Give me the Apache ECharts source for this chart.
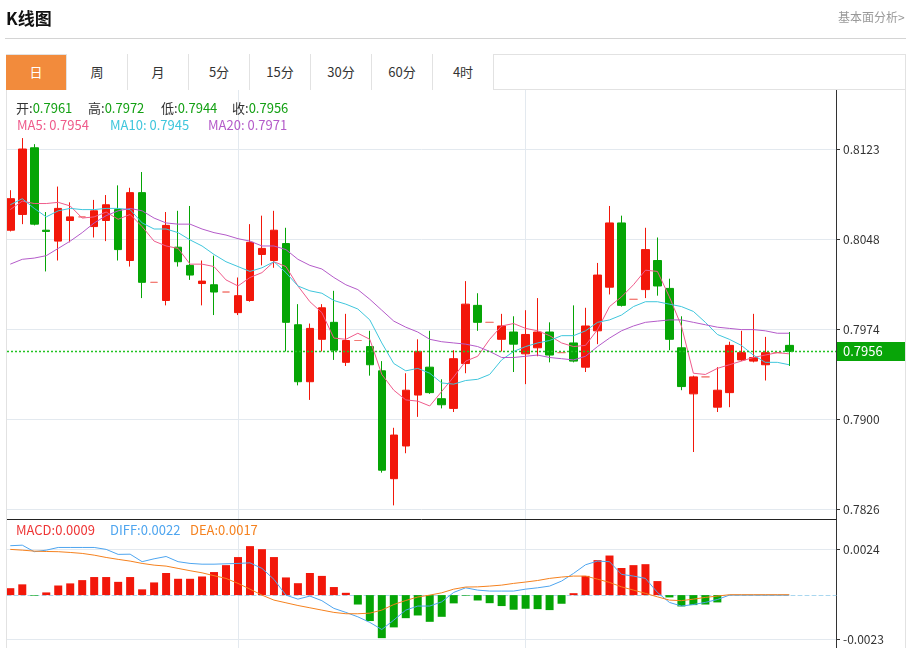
<!DOCTYPE html>
<html>
<head>
<meta charset="utf-8">
<script src="https://cdn.jsdelivr.net/npm/echarts@6/dist/echarts.min.js"></script>
<style>
html,body{margin:0;padding:0;background:#fff;width:911px;height:648px;overflow:hidden;font-family:"Noto Sans CJK SC","Noto Sans",sans-serif;}
#chart{position:absolute;left:0;top:0;width:911px;height:648px;}
.ov{position:absolute;pointer-events:none;white-space:nowrap;}
.tab{position:absolute;top:54px;width:61px;height:36px;box-sizing:border-box;border-right:1px solid #e2e2e2;text-align:center;line-height:36px;font-size:13px;color:#333;background:#fff;}
.tab.on{background:#f28b3c;color:#fff;}
.lg{position:absolute;font-size:13px;line-height:16px;white-space:nowrap;}
</style>
</head>
<body>
<div id="chart"></div>

<div class="ov" style="left:6px;top:7px;font-size:17px;line-height:22px;font-weight:bold;color:#111;">K线图</div>
<div class="ov" style="left:838px;top:8px;font-size:12px;line-height:17px;color:#999;">基本面分析&gt;</div>
<div class="ov" style="left:5px;top:38px;width:901px;height:1px;background:#d4d4d4;"></div>
<div class="ov" style="left:6px;top:54px;width:900px;height:36px;box-sizing:border-box;border:1px solid #e2e2e2;"></div>
<div id="tabs"></div>
<div class="ov" style="left:6px;top:90px;width:1px;height:558px;background:#e2e2e2;"></div>
<div class="ov" style="left:905px;top:54px;width:1px;height:594px;background:#e2e2e2;"></div>
<div id="legends"></div>

<script>
// ---------- data ----------
const tabNames = ['日', '周', '月', '5分', '15分', '30分', '60分', '4时'];

const openP  = [0.8056,0.8069,0.8124,0.8056,0.8047,0.8064,0.8067,0.8059,0.8064,0.8073,
                0.8031,0.8087,0.8013,0.7998,0.8042,0.8027,0.8012,0.8011,0.8005,0.7988,
                0.7998,0.8036,0.8031,0.8045,0.7978,0.7931,0.7966,0.7980,0.7947,0.7965,
                0.7960,0.7940,0.7851,0.7878,0.7920,0.7943,0.7917,0.7909,0.7946,0.7994,
                0.7980,0.7966,0.7972,0.7954,0.7959,0.7972,0.7955,0.7963,0.7943,0.7973,
                0.8009,0.8062,0.7999,0.8007,0.8031,0.8008,0.7959,0.7921,0.7935,0.7910,
                0.7922,0.7949,0.7948,0.7945,0.7955,0.7961];
const closeP = [0.8082,0.8123,0.8061,0.8055,0.8074,0.8067,0.8067,0.8072,0.8077,0.8040,
                0.8087,0.8013,0.8013,0.8060,0.8030,0.8019,0.8014,0.8005,0.8005,0.8002,
                0.8046,0.8041,0.8056,0.7980,0.7931,0.7975,0.7992,0.7957,0.7965,0.7965,
                0.7945,0.7858,0.7887,0.7924,0.7956,0.7922,0.7912,0.7950,0.7995,0.7980,
                0.7980,0.7977,0.7962,0.7970,0.7972,0.7953,0.7955,0.7948,0.7977,0.8019,
                0.8062,0.7994,0.7999,0.8040,0.8010,0.7966,0.7927,0.7935,0.7935,0.7924,
                0.7961,0.7955,0.7951,0.7955,0.7955,0.7956];
const lowP   = [0.8055,0.8061,0.8060,0.8022,0.8031,0.8046,0.8067,0.8050,0.8047,0.8031,
                0.8026,0.8000,0.8013,0.7994,0.8026,0.8015,0.7994,0.7986,0.8005,0.7986,
                0.7997,0.8027,0.8025,0.7956,0.7928,0.7916,0.7956,0.7949,0.7944,0.7965,
                0.7936,0.7856,0.7829,0.7872,0.7902,0.7921,0.7909,0.7906,0.7938,0.7973,
                0.7980,0.7956,0.7939,0.7929,0.7952,0.7947,0.7955,0.7947,0.7939,0.7962,
                0.8003,0.7993,0.7999,0.8000,0.8002,0.7957,0.7924,0.7873,0.7935,0.7906,
                0.7910,0.7948,0.7947,0.7932,0.7955,0.7944];
const highP  = [0.8089,0.8132,0.8127,0.8071,0.8092,0.8079,0.8067,0.8081,0.8085,0.8093,
                0.8091,0.8104,0.8013,0.8071,0.8072,0.8076,0.8031,0.8035,0.8005,0.8017,
                0.8061,0.8068,0.8072,0.8058,0.7995,0.7979,0.7995,0.8006,0.7987,0.7965,
                0.7973,0.7948,0.7893,0.7938,0.7966,0.7973,0.7933,0.7957,0.8014,0.8004,
                0.7980,0.7987,0.7985,0.7990,0.8000,0.7980,0.7955,0.7994,0.7992,0.8029,
                0.8076,0.8068,0.7999,0.8058,0.8050,0.8016,0.7985,0.7936,0.7935,0.7943,
                0.7964,0.7973,0.7987,0.7968,0.7955,0.7972];

const ma5  = [0.8073,0.8080,0.8078,0.8078,0.8079,0.8076,0.8066,0.8067,0.8071,0.8065,
              0.8069,0.8059,0.8047,0.8043,0.8041,0.8028,0.8028,0.8026,0.8015,0.8010,
              0.8017,0.8021,0.8030,0.8026,0.8010,0.7997,0.7988,0.7967,0.7966,0.7971,
              0.7966,0.7937,0.7924,0.7916,0.7915,0.7911,0.7923,0.7935,0.7948,0.7952,
              0.7966,0.7977,0.7979,0.7975,0.7973,0.7969,0.7963,0.7960,0.7961,0.7974,
              0.7993,0.8001,0.8011,0.8023,0.8022,0.8001,0.7977,0.7938,0.7937,0.7942,
              0.7945,0.7948,0.7951,0.7953,0.7955,0.7954];
const ma10 = [0.8077,0.8082,0.8074,0.8067,0.8072,0.8074,0.8073,0.8073,0.8074,0.8074,
              0.8073,0.8062,0.8057,0.8057,0.8054,0.8048,0.8043,0.8036,0.8030,0.8026,
              0.8022,0.8025,0.8030,0.8021,0.8010,0.8006,0.8004,0.7998,0.7995,0.7991,
              0.7982,0.7963,0.7946,0.7940,0.7942,0.7938,0.7930,0.7929,0.7932,0.7933,
              0.7937,0.7949,0.7956,0.7960,0.7963,0.7965,0.7969,0.7969,0.7973,0.7980,
              0.7982,0.7986,0.7993,0.7997,0.7997,0.7995,0.7993,0.7989,0.7980,0.7970,
              0.7966,0.7961,0.7953,0.7947,0.7947,0.7945];
const ma20 = [0.8028,0.8032,0.8033,0.8035,0.8041,0.8047,0.8054,0.8062,0.8068,0.8072,
              0.8074,0.8072,0.8066,0.8062,0.8061,0.8061,0.8057,0.8054,0.8052,0.8049,
              0.8047,0.8043,0.8043,0.8040,0.8032,0.8027,0.8024,0.8017,0.8011,0.8007,
              0.7999,0.7990,0.7981,0.7976,0.7972,0.7966,0.7964,0.7963,0.7962,0.7960,
              0.7956,0.7951,0.7951,0.7952,0.7953,0.7951,0.7950,0.7949,0.7952,0.7960,
              0.7967,0.7973,0.7977,0.7980,0.7981,0.7982,0.7982,0.7980,0.7978,0.7976,
              0.7975,0.7974,0.7974,0.7973,0.7971,0.7971];

const macdBar = [0.00036,0.00056,-0.00003,0.00014,0.00050,0.00061,0.00078,0.00094,0.00094,0.00069,
                 0.00094,0.00030,0.00066,0.00115,0.00085,0.00085,0.00097,0.00120,0.00156,0.00198,
                 0.00255,0.00239,0.00198,0.00092,0.00062,0.00115,0.00100,0.00042,0.00012,-0.00049,
                 -0.00135,-0.00224,-0.00168,-0.00120,-0.00106,-0.00139,-0.00113,-0.00043,-0.00003,-0.00028,
                 -0.00042,-0.00057,-0.00076,-0.00071,-0.00073,-0.00078,-0.00045,0.00010,0.00100,0.00182,
                 0.00206,0.00141,0.00156,0.00161,0.00073,-0.00012,-0.00059,-0.00052,-0.00049,-0.00038,
                 0,0,0,0,0,0];
const diffLine = [0.00257,0.00260,0.00226,0.00234,0.00248,0.00248,0.00248,0.00248,0.00238,0.00212,
                  0.00213,0.00174,0.00189,0.00201,0.00174,0.00165,0.00161,0.00161,0.00163,0.00165,
                  0.00168,0.00139,0.00082,0.00000,-0.00021,-0.00005,-0.00029,-0.00069,-0.00090,-0.00113,
                  -0.00142,-0.00179,-0.00130,-0.00078,-0.00057,-0.00057,-0.00035,0.00014,0.00038,0.00026,
                  0.00021,0.00021,0.00021,0.00031,0.00038,0.00047,0.00073,0.00113,0.00158,0.00177,
                  0.00174,0.00108,0.00099,0.00087,0.00014,-0.00038,-0.00057,-0.00049,-0.00038,-0.00023,
                  0,0,0,0,0,0];
const deaLine = [0.00238,0.00234,0.00229,0.00227,0.00226,0.00222,0.00217,0.00208,0.00196,0.00186,
                 0.00177,0.00165,0.00156,0.00151,0.00139,0.00127,0.00116,0.00101,0.00087,0.00061,
                 0.00031,0.00000,-0.00026,-0.00040,-0.00054,-0.00066,-0.00078,-0.00090,-0.00097,-0.00097,
                 -0.00094,-0.00078,-0.00049,-0.00028,-0.00010,0.00000,0.00012,0.00031,0.00042,0.00043,
                 0.00047,0.00052,0.00061,0.00068,0.00076,0.00087,0.00094,0.00099,0.00099,0.00083,
                 0.00066,0.00043,0.00026,0.00009,-0.00009,-0.00026,-0.00029,-0.00021,-0.00012,-0.00005,
                 0.00002,0.00002,0.00002,0.00002,0.00002,0.00002];

const priceTickLabels = ['0.7826', '0.7900', '0.7974', '0.8048', '0.8123'];
const macdTickLabels  = ['-0.0023', '0.0024'];
const macdLegend = { MACD: '0.0009', DIFF: '0.0022', DEA: '0.0017' };
const dividerIdx = [19, 43];

// ---------- styles / layout ----------
const RED = '#f2170a', GREEN = '#05a505';
const C_MA5 = '#ef5b8b', C_MA10 = '#3fc6dc', C_MA20 = '#b45bc9';
const C_DIFF = '#4ea5ef', C_DEA = '#f5811e', C_MACD = '#ee3535';
const C_LAST = '#22c322';
const gridL = 7, gridR = 836, plotW = gridR - gridL;
const kTop = 90, kBottom = 519, lblTop = 149, lblBottom = 509;
const mTop = 519, mBottom = 648, mLblTop = 549, mLblBottom = 639.3;
const xMin = -0.275, xMax = 68.9;

// tabs
const tabsEl = document.getElementById('tabs');
tabNames.forEach((t, k) => {
  const d = document.createElement('div');
  d.className = 'tab' + (k === 0 ? ' on' : '');
  d.style.left = (6 + 61 * k) + 'px';
  if (k === 0) { d.style.top = '55px'; d.style.height = '35px'; d.style.lineHeight = '34px'; }
  d.textContent = t;
  tabsEl.appendChild(d);
});

// legends
const last = openP.length - 1;
const f4 = v => v.toFixed(4);
const lgEl = document.getElementById('legends');
function addLg(x, y, html) {
  const d = document.createElement('div');
  d.className = 'lg'; d.style.left = x + 'px'; d.style.top = y + 'px';
  d.innerHTML = html; lgEl.appendChild(d);
}
const VG = '#13a013';
addLg(16, 100, '<span style="color:#333">开:</span><span style="color:' + VG + '">' + f4(openP[last]) + '</span>');
addLg(88, 100, '<span style="color:#333">高:</span><span style="color:' + VG + '">' + f4(highP[last]) + '</span>');
addLg(161, 100, '<span style="color:#333">低:</span><span style="color:' + VG + '">' + f4(lowP[last]) + '</span>');
addLg(232, 100, '<span style="color:#333">收:</span><span style="color:' + VG + '">' + f4(closeP[last]) + '</span>');
addLg(17, 117, '<span style="color:' + C_MA5 + '">MA5: ' + f4(ma5[last]) + '</span>');
addLg(110, 117, '<span style="color:' + C_MA10 + '">MA10: ' + f4(ma10[last]) + '</span>');
addLg(208, 117, '<span style="color:' + C_MA20 + '">MA20: ' + f4(ma20[last]) + '</span>');
addLg(16, 522, '<span style="color:' + C_MACD + '">MACD:' + macdLegend.MACD + '</span>');
addLg(110, 522, '<span style="color:' + C_DIFF + '">DIFF:' + macdLegend.DIFF + '</span>');
addLg(190, 522, '<span style="color:' + C_DEA + '">DEA:' + macdLegend.DEA + '</span>');

// ---------- chart ----------
const idx = openP.map((_, i) => i);
const candleData = idx.map(i => [i, openP[i], closeP[i], lowP[i], highP[i]]);
const pair = arr => arr.map((v, i) => [i, v]);

const pMin = parseFloat(priceTickLabels[0]);
const pMax = parseFloat(priceTickLabels[priceTickLabels.length - 1]);
const pInt = (pMax - pMin) / (priceTickLabels.length - 1);
const pPerPx = (pMax - pMin) / (lblBottom - lblTop);
const kMin = pMin - (kBottom - lblBottom) * pPerPx;
const kMax = pMax + (lblTop - kTop) * pPerPx;

const mLo = parseFloat(macdTickLabels[0]);
const mHi = parseFloat(macdTickLabels[1]);
const mPerPx = (mHi - mLo) / (mLblBottom - mLblTop);
const mMin = mLo - (mBottom - mLblBottom) * mPerPx;
const mMax = mHi + (mLblTop - mTop) * mPerPx;

const pxOf = i => gridL + (i - xMin) * plotW / (xMax - xMin);
const divStep = pxOf(dividerIdx[1]) - pxOf(dividerIdx[0]);
const divLeft = pxOf(dividerIdx[0]) - divStep;

const hidden = { axisLine: { show: false, onZero: false }, axisTick: { show: false }, axisLabel: { show: false }, splitLine: { show: false } };
const lblStyle = { color: '#333', fontSize: 12, margin: 7, fontFamily: 'Noto Sans CJK SC' };
const tickStyle = { show: true, length: 4, inside: false, lineStyle: { color: '#333' } };
const lastLineStyle = { color: C_LAST, type: [2, 2], width: 1.4, opacity: 1 };

const chart = echarts.init(document.getElementById('chart'));
chart.setOption({
  animation: false,
  grid: [
    { left: gridL, width: plotW, top: kTop, height: kBottom - kTop, outerBoundsMode: 'none' },
    { left: gridL, width: plotW, top: mTop, height: mBottom - mTop, outerBoundsMode: 'none' },
    { left: gridL, width: plotW, top: lblTop, height: lblBottom - lblTop, outerBoundsMode: 'none' },
    { left: gridL, width: plotW, top: mLblTop, height: mLblBottom - mLblTop, outerBoundsMode: 'none' },
    { left: divLeft, width: divStep * 2, top: kTop, height: mBottom - kTop, outerBoundsMode: 'none' }
  ],
  xAxis: [
    Object.assign({}, hidden, { gridIndex: 0, type: 'value', min: xMin, max: xMax,
      axisLine: { show: true, onZero: false, lineStyle: { color: '#222', width: 1 } } }),
    Object.assign({}, hidden, { gridIndex: 1, type: 'value', min: xMin, max: xMax,
      axisLine: { show: true, onZero: true, lineStyle: { color: '#a9d7ef', type: [4, 3], width: 1 } } }),
    Object.assign({}, hidden, { gridIndex: 2, type: 'value', min: 0, max: 1 }),
    Object.assign({}, hidden, { gridIndex: 3, type: 'value', min: 0, max: 1 }),
    Object.assign({}, hidden, { gridIndex: 4, type: 'value', min: 0, max: 2, interval: 1,
      splitLine: { show: true, lineStyle: { color: '#e3e9ef', width: 1 } } })
  ],
  yAxis: [
    Object.assign({}, hidden, { gridIndex: 0, type: 'value', position: 'right', min: kMin, max: kMax,
      axisLine: { show: true, onZero: false, lineStyle: { color: '#333' } } }),
    Object.assign({}, hidden, { gridIndex: 1, type: 'value', position: 'right', min: mMin, max: mMax,
      axisLine: { show: true, onZero: false, lineStyle: { color: '#333' } } }),
    { gridIndex: 2, type: 'value', position: 'right', min: pMin, max: pMax, interval: pInt,
      axisLine: { show: false, onZero: false }, axisTick: tickStyle,
      axisLabel: Object.assign({}, lblStyle, { formatter: v => priceTickLabels[Math.round((v - pMin) / pInt)] }),
      splitLine: { show: true, lineStyle: { color: '#e3e9ef' } } },
    { gridIndex: 3, type: 'value', position: 'right', min: mLo, max: mHi, interval: mHi - mLo,
      axisLine: { show: false, onZero: false }, axisTick: tickStyle,
      axisLabel: Object.assign({}, lblStyle, { formatter: v => macdTickLabels[Math.round((v - mLo) / (mHi - mLo))] }),
      splitLine: { show: true, lineStyle: { color: '#e3e9ef' } } },
    Object.assign({}, hidden, { gridIndex: 4, type: 'value', position: 'right', min: 0, max: 1 })
  ],
  series: [
    {
      type: 'candlestick', xAxisIndex: 0, yAxisIndex: 0, data: candleData, barWidth: 8,
      itemStyle: { color: RED, color0: GREEN, borderColor: RED, borderColor0: GREEN, borderColorDoji: '#f27a72', borderWidth: 1 }
    },
    { type: 'line', xAxisIndex: 0, yAxisIndex: 0, data: pair(ma5), showSymbol: false, symbol: 'none',
      lineStyle: { color: C_MA5, width: 1 }, itemStyle: { color: C_MA5 } },
    { type: 'line', xAxisIndex: 0, yAxisIndex: 0, data: pair(ma10), showSymbol: false, symbol: 'none',
      lineStyle: { color: C_MA10, width: 1 }, itemStyle: { color: C_MA10 } },
    { type: 'line', xAxisIndex: 0, yAxisIndex: 0, data: pair(ma20), showSymbol: false, symbol: 'none',
      lineStyle: { color: C_MA20, width: 1 }, itemStyle: { color: C_MA20 } },
    // last-price guide line (its own series so it inherits the green colour)
    { type: 'line', xAxisIndex: 0, yAxisIndex: 0, data: [[last, closeP[last]]], showSymbol: false, symbol: 'none',
      color: C_LAST, lineStyle: { color: C_LAST, width: 0 }, itemStyle: { color: C_LAST }, z: 3,
      markLine: {
        silent: true, animation: false, symbol: ['none', 'none'], precision: 6,
        emphasis: { disabled: true },
        data: [{ yAxis: closeP[last], lineStyle: lastLineStyle }],
        lineStyle: lastLineStyle,
        label: { show: true, position: 'end', distance: 1, formatter: () => f4(closeP[last]),
          backgroundColor: '#08a508', color: '#fff', fontSize: 13, lineHeight: 14,
          padding: [3, 23, 2, 6], fontFamily: 'Noto Sans CJK SC' }
      } },
    { type: 'bar', xAxisIndex: 1, yAxisIndex: 1, data: pair(macdBar), barWidth: 8,
      itemStyle: { color: p => (p.value[1] >= 0 ? RED : GREEN) } },
    { type: 'line', xAxisIndex: 1, yAxisIndex: 1, data: pair(diffLine), showSymbol: false, symbol: 'none',
      lineStyle: { color: C_DIFF, width: 1 }, itemStyle: { color: C_DIFF } },
    { type: 'line', xAxisIndex: 1, yAxisIndex: 1, data: pair(deaLine), showSymbol: false, symbol: 'none',
      lineStyle: { color: C_DEA, width: 1 }, itemStyle: { color: C_DEA } }
  ]
});
</script>
</body>
</html>
